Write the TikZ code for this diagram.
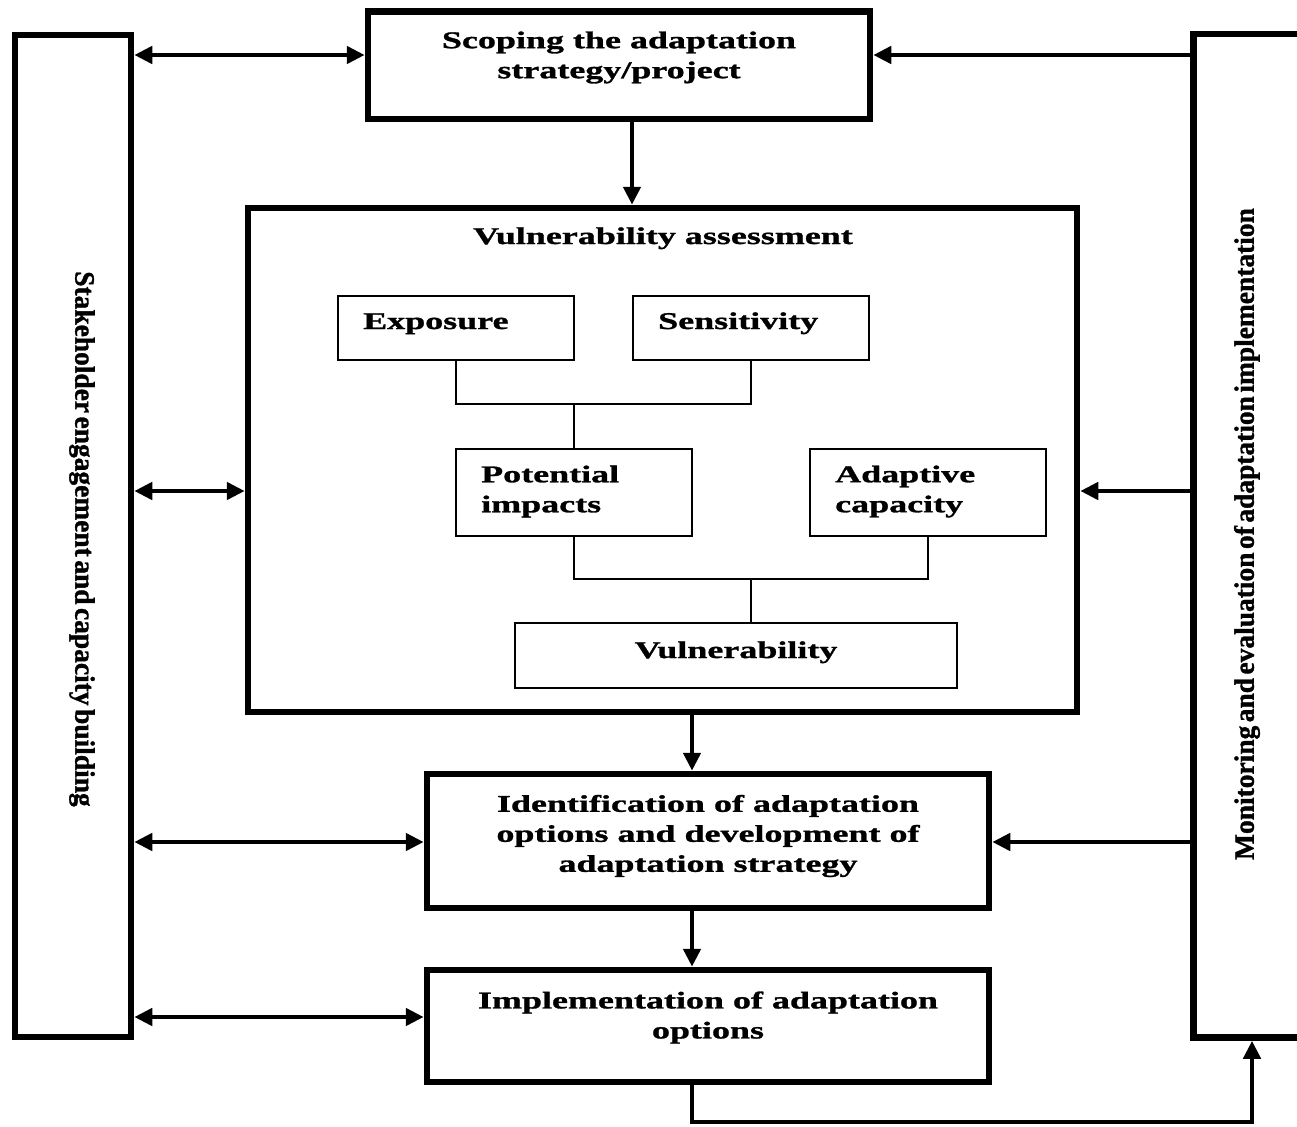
\documentclass[tikz,border=0pt]{standalone}
\usepackage{fontspec}
\setmainfont{Liberation Serif}
\newfontfamily\widefont[FakeStretch=1.5,FakeBold=1.2]{Liberation Serif}
\newfontfamily\narrowfont[FakeStretch=0.98,FakeBold=1.2]{Liberation Serif}
\newcommand{\tightspaces}{\spaceskip=3.5pt plus 0pt minus 0pt\relax}
\usetikzlibrary{arrows.meta}
\begin{document}
\begin{tikzpicture}[x=1pt,y=-1pt,
  thickbox/.style={draw, line width=6.5pt, inner sep=0pt},
  thinbox/.style={draw, line width=1.8pt, inner sep=0pt},
  txt/.style={inner sep=0pt, align=center, font=\widefont\bfseries\fontsize{24}{30}\selectfont},
  ltxt/.style={inner sep=0pt, align=left, font=\widefont\bfseries\fontsize{24}{30}\selectfont},
  vtxt/.style={inner sep=0pt, font=\narrowfont\bfseries\fontsize{28}{30}\selectfont},
  tree/.style={line width=1.8pt},
  arr/.style={line width=4.8pt, arrows={-Triangle[length=18pt,width=17pt]}},
  darr/.style={line width=4.8pt, arrows={Triangle[length=18pt,width=17pt]-Triangle[length=18pt,width=17pt]}}
]
\useasboundingbox (0,0) rectangle (1297,1126);
\clip (0,0) rectangle (1297,1126);

% big boxes
\node[thickbox, minimum width=116pt, minimum height=1002pt] (L) at (73,536) {};
\node[thickbox, minimum width=126.5pt, minimum height=1003.5pt] (R) at (1256.75,535.75) {};
\node[thickbox, minimum width=502pt, minimum height=107.5pt] (S) at (619,65.25) {};
\node[thickbox, minimum width=829pt, minimum height=504pt] (VA) at (662.5,460) {};
\node[thickbox, minimum width=562pt, minimum height=134pt] (ID) at (708,841) {};
\node[thickbox, minimum width=562pt, minimum height=112pt] (IM) at (708,1026) {};

% inner boxes
\node[thinbox, minimum width=236pt, minimum height=64pt] (EX) at (456,328) {};
\node[thinbox, minimum width=236pt, minimum height=64pt] (SE) at (751,328) {};
\node[thinbox, minimum width=236pt, minimum height=87pt] (PI) at (574,492.5) {};
\node[thinbox, minimum width=236pt, minimum height=87pt] (AC) at (928,492.5) {};
\node[thinbox, minimum width=442pt, minimum height=65pt] (VU) at (736,655.5) {};

% texts
\node[txt] (tS) at (619,57.5) {Scoping the adaptation\\strategy/project};
\node[txt, anchor=base] (tVA) at (663,244) {Vulnerability assessment};
\node[ltxt, anchor=base west] (tEX) at (363,329) {Exposure};
\node[ltxt, anchor=base west] (tSE) at (658,329) {Sensitivity};
\node[ltxt, anchor=west] (tPI) at (481,491.5) {Potential\\impacts};
\node[ltxt, anchor=west] (tAC) at (835,491.5) {Adaptive\\capacity};
\node[txt, anchor=base] (tVU) at (736,658) {Vulnerability};
\node[txt] (tID) at (708,836) {Identification of adaptation\\options and development of\\adaptation strategy};
\node[txt] (tIM) at (708,1017.5) {Implementation of adaptation\\options};
\node[vtxt, rotate=-90] (tL) at (82,539) {\tightspaces Stakeholder engagement and capacity building};
\node[vtxt, rotate=90] (tR) at (1247,534) {\tightspaces Monitoring and evaluation of adaptation implementation};

% tree connectors
\coordinate (j1) at (574,404);
\coordinate (j2) at (751,579);
\draw[tree] (EX.south) |- (j1) -| (SE.south);
\draw[tree] (j1) -- (PI.north);
\draw[tree] (PI.south) |- (j2) -| (AC.south);
\draw[tree] (j2) -- (j2 |- VU.north);

% helper coordinates
\coordinate (y55) at (0,55);
\coordinate (y491) at (0,491);
\coordinate (y842) at (0,842);
\coordinate (y1017) at (0,1017);
\coordinate (x632) at (632,0);
\coordinate (x692) at (692,0);
\coordinate (j3) at (692,1122);
\coordinate (x1252) at (1252,0);

% arrows
\draw[darr] (L.east |- y55) -- (S.west |- y55);
\draw[arr] (R.west |- y55) -- (S.east |- y55);
\draw[arr] (S.south -| x632) -- (VA.north -| x632);
\draw[darr] (L.east |- y491) -- (VA.west |- y491);
\draw[arr] (R.west |- y491) -- (VA.east |- y491);
\draw[arr] (VA.south -| x692) -- (ID.north -| x692);
\draw[darr] (L.east |- y842) -- (ID.west |- y842);
\draw[arr] (R.west |- y842) -- (ID.east |- y842);
\draw[arr] (ID.south -| x692) -- (IM.north -| x692);
\draw[darr] (L.east |- y1017) -- (IM.west |- y1017);
\draw[arr] (IM.south -| x692) -- (j3) -| (R.south -| x1252);
\end{tikzpicture}
\end{document}
